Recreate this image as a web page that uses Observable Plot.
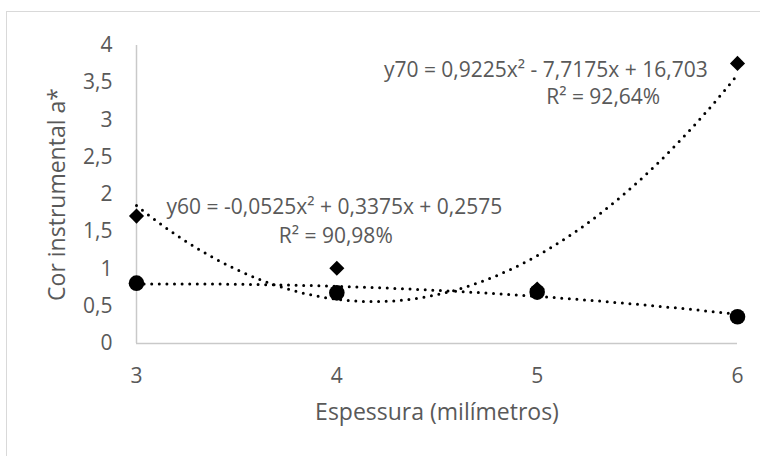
<!DOCTYPE html>
<html>
<head>
<meta charset="utf-8">
<script src="https://cdn.jsdelivr.net/npm/d3@7"></script>
<script src="https://cdn.jsdelivr.net/npm/@observablehq/plot@0.6"></script>
<style>
  html, body { margin: 0; padding: 0; background: #fff; overflow: hidden; }
  #wrap { position: relative; width: 760px; height: 456px; }
  #border { position: absolute; left: 6px; top: 11px; width: 800px; height: 500px; border: 1.5px solid #d9d9d9; box-sizing: border-box; }
  #chart { position: absolute; left: 0; top: 0; }
</style>
</head>
<body>
<div id="wrap"><div id="border"></div><div id="chart"></div></div>
<script>
// Data
const thickness = [3, 4, 5, 6];               // Espessura (mm)
const a60 = [0.81, 0.68, 0.69, 0.36];          // circles (y60)
const a70 = [1.71, 1.01, 0.73, 3.76];          // diamonds (y70)
const xTicks = [3, 4, 5, 6];
const yTicks = [0, 0.5, 1, 1.5, 2, 2.5, 3, 3.5, 4];
// Trendline coefficients as printed on the chart (a x^2 + b x + c)
const coef60 = [-0.0525, 0.3375, 0.2575];
const coef70 = [0.9225, -7.7175, 16.703];
const eq60 = ["y60 = -0,0525x² + 0,3375x + 0,2575", "R² = 90,98%"];
const eq70 = ["y70 = 0,9225x² - 7,7175x + 16,703", "R² = 92,64%"];
const xTitle = "Espessura (milímetros)";
const yTitle = "Cor instrumental a*";

const pts60 = thickness.map((x, i) => ({x, y: a60[i]}));
const pts70 = thickness.map((x, i) => ({x, y: a70[i]}));
const xs = d3.range(3, 6.0001, 0.02);
const poly = (c) => xs.map(x => ({x, y: c[0]*x*x + c[1]*x + c[2]}));
const fmt = d => String(d).replace(".", ",");

const txt = "#595959";
const font = "'Open Sans', sans-serif";
const dotted = {x: "x", y: "y", stroke: "#000", strokeWidth: 3, strokeDasharray: "0 7.6", strokeLinecap: "round", curve: "linear"};

const chart = Plot.plot({
  width: 760, height: 456,
  marginLeft: 136, marginRight: 23, marginTop: 45, marginBottom: 113,
  style: {fontFamily: font, color: txt, background: "transparent", overflow: "visible"},
  x: {domain: [3, 6]},
  y: {domain: [0, 4]},
  marks: [
    Plot.ruleX([3], {stroke: "#c9c9c9", strokeWidth: 1.5}),
    Plot.ruleY([0], {stroke: "#c9c9c9", strokeWidth: 1.5}),
    Plot.axisX({ticks: xTicks, tickSize: 0, tickPadding: 25, fontSize: 21, fill: txt, tickFormat: fmt, label: null}),
    Plot.axisY({ticks: yTicks, tickSize: 0, tickPadding: 24, fontSize: 21, fill: txt, tickFormat: fmt, label: null}),
    Plot.line(poly(coef60), dotted),
    Plot.line(poly(coef70), dotted),
    Plot.dot(pts60, {x: "x", y: "y", r: 7.8, fill: "#000", symbol: "circle"}),
    Plot.dot(pts70, {x: "x", y: "y", r: 6.8, fill: "#000", symbol: "diamond2"}),
    Plot.text([eq70[0]], {x: 4.235, y: 3.67, text: d => d, textAnchor: "start", fontSize: 21, fill: txt}),
    Plot.text([eq70[1]], {x: 5.045, y: 3.30, text: d => d, textAnchor: "start", fontSize: 21, fill: txt}),
    Plot.text([eq60[0]], {x: 3.15, y: 1.83, text: d => d, textAnchor: "start", fontSize: 21, fill: txt}),
    Plot.text([eq60[1]], {x: 3.71, y: 1.435, text: d => d, textAnchor: "start", fontSize: 21, fill: txt}),
    Plot.text([xTitle], {frameAnchor: "bottom", dy: 76, text: d => d, fontSize: 23, fill: txt}),
    Plot.text([yTitle], {x: 2.605, y: 2, rotate: -90, text: d => d, fontSize: 23, fill: txt})
  ]
});
document.getElementById("chart").appendChild(chart);
</script>
</body>
</html>
